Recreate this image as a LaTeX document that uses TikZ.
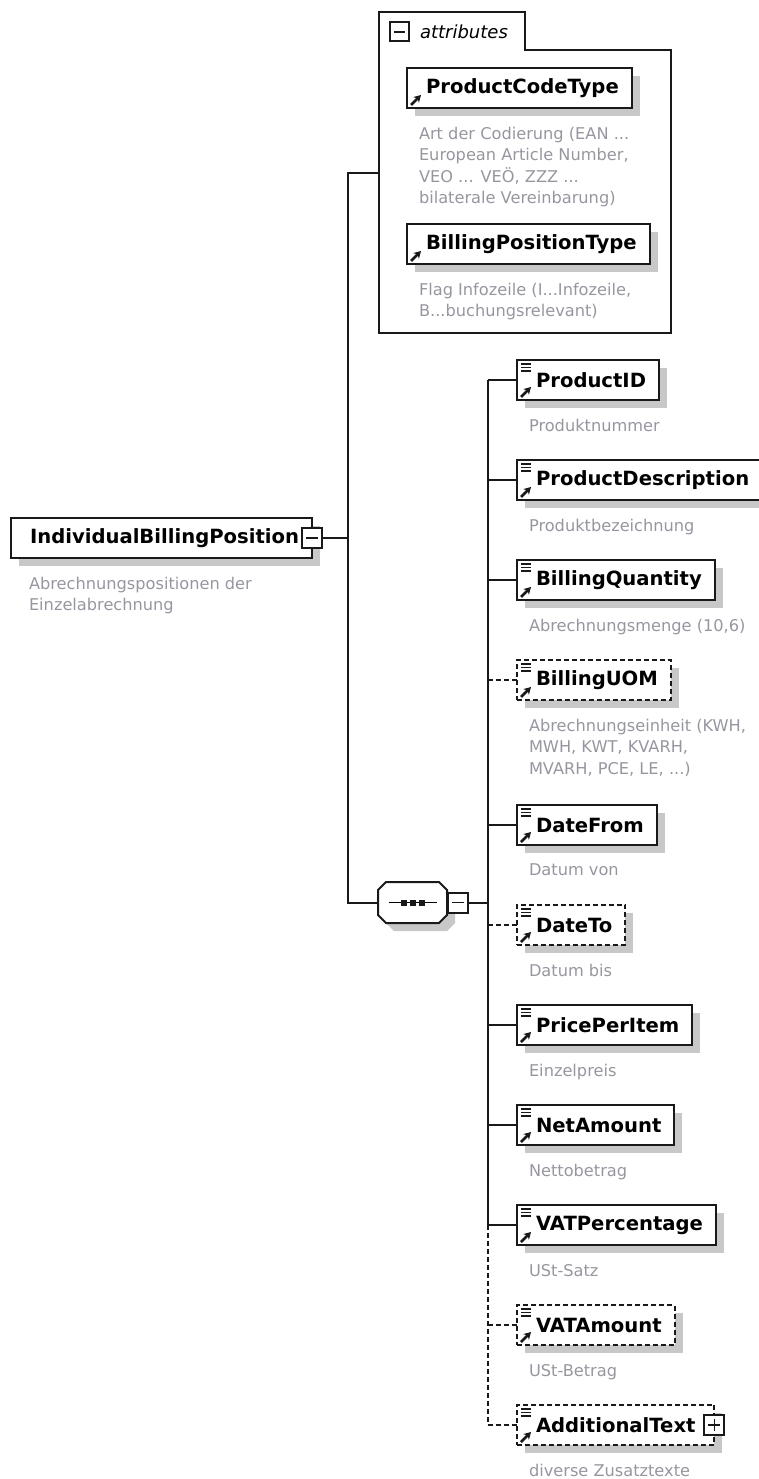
\documentclass[tikz,border=0pt]{standalone}
\usepackage{fontspec}
\setmainfont{DejaVu Sans}
\usepackage{xcolor}
\usepackage{tikz}
\usetikzlibrary{shapes, arrows, arrows.meta, positioning, shadows}

\definecolor{shadowgray}{RGB}{200,200,200}
\definecolor{descgray}{RGB}{150,150,160}
\definecolor{framegray}{RGB}{25,25,25}
\newcommand{\namefont}{\fontsize{19.6}{23}\selectfont\bfseries}
\newcommand{\descfont}{\fontsize{16.2}{21.5}\selectfont}
\newcommand{\attrfont}{\fontsize{18}{22}\selectfont\itshape}

\begin{document}
\begin{tikzpicture}[x=1pt, y=-1pt, >=stealth, line width=2pt]
            \tikzstyle{box} = [draw=framegray, rectangle, minimum height=40pt, inner xsep=13pt, outer sep=0pt, fill=white, font=\namefont, execute at begin node={\hspace*{6pt}}, drop shadow={shadow xshift=8pt, shadow yshift=-8pt, fill=shadowgray, opacity=1}]
            \tikzstyle{elem} = [box, path picture={
                \foreach \k in {0,3.5,7}
                    \draw[solid, line width=1.2pt] ([xshift=4pt, yshift=-4pt-\k*1pt]path picture bounding box.north west) -- ++(10pt,0pt);
                \draw[solid, line width=2.6pt, -{Stealth[length=7pt, width=8pt]}] ([shift={(4pt,3pt)}]path picture bounding box.south west) -- ++(10pt,10pt);
            }]
            \tikzstyle{optelem} = [elem, dash pattern=on 5pt off 3pt]
            \tikzstyle{attrelem} = [box, path picture={
                \draw[solid, line width=2.6pt, -{Stealth[length=7pt, width=8pt]}] ([shift={(4pt,3pt)}]path picture bounding box.south west) -- ++(10pt,10pt);
            }]
            \tikzstyle{desc} = [inner sep=0pt, align=left, font=\descfont, text=descgray]
            \tikzstyle{minusbox} = [draw=framegray, rectangle, fill=white, minimum size=20pt, inner sep=0pt, outer sep=0pt, path picture={
                \draw[line width=1.5pt] ([xshift=4pt]path picture bounding box.west) -- ([xshift=-4pt]path picture bounding box.east);
            }]
            \tikzstyle{plusbox} = [minusbox, path picture={
                \draw[line width=1.5pt] ([xshift=4pt]path picture bounding box.west) -- ([xshift=-4pt]path picture bounding box.east);
                \draw[line width=1.5pt] ([yshift=-4pt]path picture bounding box.north) -- ([yshift=4pt]path picture bounding box.south);
            }]
            \tikzstyle{seqbox} = [rectangle, minimum width=69pt, minimum height=41pt, inner sep=0pt, outer sep=0pt]
            \tikzstyle{seqframe} = [draw=framegray, fill=white, preaction={fill=shadowgray, transform canvas={shift={(8pt,-8pt)}}}]
            \tikzstyle{optline} = [dash pattern=on 5pt off 3pt]

            \useasboundingbox (0,0) rectangle (759,1479);

            % root element
            \node[box, anchor=west, minimum width=301pt, execute at begin node={}] (ibp) at (11,538) {IndividualBillingPosition};
            \node[desc, below right=18pt and 17pt of ibp.south west] (ibp-d) {Abrechnungspositionen der\\Einzelabrechnung};
            \node[minusbox] (ibpminus) at (ibp.east) {};
            \coordinate[right=26pt of ibpminus.east] (trunk);

            % attributes
            \draw[draw=framegray] (379,12) -- (525,12) -- (525,50) -- (671,50) -- (671,333) -- (379,333) -- cycle;
            \coordinate (attrjoin) at (379,173);
            \node[minusbox, minimum size=19pt] (attrminus) at (399,32) {};
            \node[font=\attrfont, anchor=base west, inner sep=0pt] (attrlabel) at (419,39) {attributes};

            \node[attrelem, anchor=west] (pct) at (407,88) {ProductCodeType};
            \node[desc, below right=18pt and 11pt of pct.south west] (pct-d) {Art der Codierung (EAN ...\\European Article Number,\\VEO ... VEÖ, ZZZ ...\\bilaterale Vereinbarung)};
            \node[attrelem, below=116pt of pct.south west, anchor=north west] (bpt) {BillingPositionType};
            \node[desc, below right=18pt and 11pt of bpt.south west] (bpt-d) {Flag Infozeile (I...Infozeile,\\B...buchungsrelevant)};

            % sequence
            \node[seqbox] (seq) at (412.5,902.5) {};
            \draw[seqframe] (seq.west) ++(0,-12.5) -- ++(8,-8) -- ++(53,0) -- ++(8,8) -- ++(0,25) -- ++(-8,8) -- ++(-53,0) -- ++(-8,-8) -- cycle;
            \draw[line width=1.5pt] ([xshift=-24pt]seq.center) -- ([xshift=24pt]seq.center);
            \foreach \dx in {-9,0,9}
                \fill[framegray] ([xshift=\dx*1pt]seq.center) +(-3,-3) rectangle +(3,3);
            \node[minusbox, right=1pt of seq] (seqminus) {};
            \coordinate[right=20pt of seqminus.east] (bus);

            % children
            \node[elem, anchor=west] (pid) at (517,380) {ProductID};
            \node[desc, below right=18pt and 11pt of pid.south west] (pid-d) {Produktnummer};
            \node[elem, below=60pt of pid.south west, anchor=north west] (pdesc) {ProductDescription};
            \node[desc, below right=18pt and 11pt of pdesc.south west] (pdesc-d) {Produktbezeichnung};
            \node[elem, below=60pt of pdesc.south west, anchor=north west] (bqty) {BillingQuantity};
            \node[desc, below right=18pt and 11pt of bqty.south west] (bqty-d) {Abrechnungsmenge (10,6)};
            \node[optelem, below=60pt of bqty.south west, anchor=north west] (uom) {BillingUOM};
            \node[desc, below right=18pt and 11pt of uom.south west] (uom-d) {Abrechnungseinheit (KWH,\\MWH, KWT, KVARH,\\MVARH, PCE, LE, ...)};
            \node[elem, below=105pt of uom.south west, anchor=north west] (dfrom) {DateFrom};
            \node[desc, below right=18pt and 11pt of dfrom.south west] (dfrom-d) {Datum von};
            \node[optelem, below=60pt of dfrom.south west, anchor=north west] (dto) {DateTo};
            \node[desc, below right=18pt and 11pt of dto.south west] (dto-d) {Datum bis};
            \node[elem, below=60pt of dto.south west, anchor=north west] (ppi) {PricePerItem};
            \node[desc, below right=18pt and 11pt of ppi.south west] (ppi-d) {Einzelpreis};
            \node[elem, below=60pt of ppi.south west, anchor=north west] (net) {NetAmount};
            \node[desc, below right=18pt and 11pt of net.south west] (net-d) {Nettobetrag};
            \node[elem, below=60pt of net.south west, anchor=north west] (vatp) {VATPercentage};
            \node[desc, below right=18pt and 11pt of vatp.south west] (vatp-d) {USt-Satz};
            \node[optelem, below=60pt of vatp.south west, anchor=north west] (vata) {VATAmount};
            \node[desc, below right=18pt and 11pt of vata.south west] (vata-d) {USt-Betrag};
            \node[optelem, below=60pt of vata.south west, anchor=north west, execute at end node={\hspace*{6pt}}] (addtext) {AdditionalText};
            \node[desc, below right=18pt and 11pt of addtext.south west] (addtext-d) {diverse Zusatztexte};
            \node[plusbox] (addplus) at (addtext.east) {};

            % connectors
            \draw[framegray] (ibpminus.east) -- (trunk);
            \draw[framegray] (attrjoin) -| (trunk) |- (seq.west);
            \draw[framegray] (seqminus.east) -- (bus);
            \draw[framegray] (pid.west -| bus) -- (vatp.west -| bus);
            \draw[framegray, optline] (vatp.west -| bus) -- (addtext.west -| bus);
            \draw[framegray] (pid.west -| bus) -- (pid.west);
            \draw[framegray] (pdesc.west -| bus) -- (pdesc.west);
            \draw[framegray] (bqty.west -| bus) -- (bqty.west);
            \draw[framegray, optline] (uom.west -| bus) -- (uom.west);
            \draw[framegray] (dfrom.west -| bus) -- (dfrom.west);
            \draw[framegray, optline] (dto.west -| bus) -- (dto.west);
            \draw[framegray] (ppi.west -| bus) -- (ppi.west);
            \draw[framegray] (net.west -| bus) -- (net.west);
            \draw[framegray] (vatp.west -| bus) -- (vatp.west);
            \draw[framegray, optline] (vata.west -| bus) -- (vata.west);
            \draw[framegray, optline] (addtext.west -| bus) -- (addtext.west);
        \end{tikzpicture}
\end{document}
